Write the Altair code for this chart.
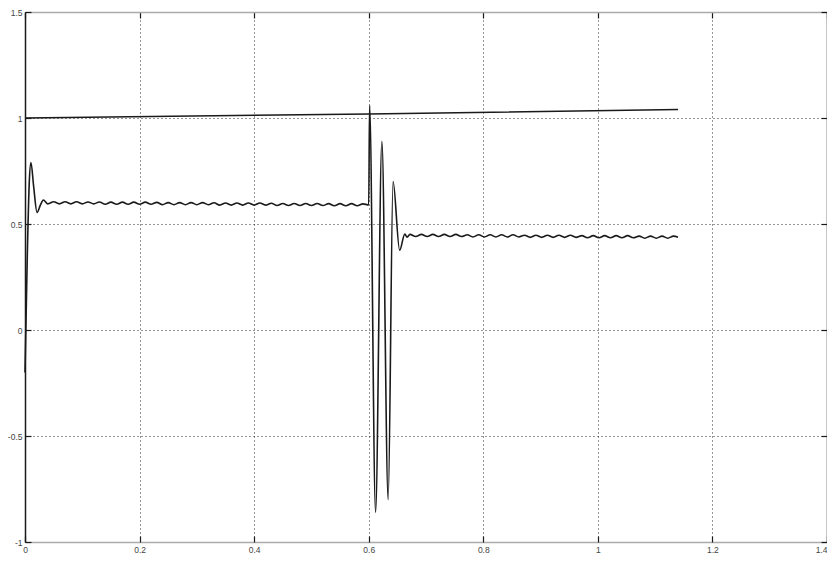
import altair as alt
import pandas as pd

# ---- axis ticks ----
x_ticks = [0, 0.2, 0.4, 0.6, 0.8, 1.0, 1.2, 1.4]
y_ticks = [-1, -0.5, 0, 0.5, 1, 1.5]

# ---- reference (upper) line ----
ref_t = [0.0, 0.6, 1.14]
ref_v = [1.0, 1.019, 1.04]

# ---- response signal ----
start_t = [0.0, 0.004, 0.0075, 0.0104, 0.015, 0.021, 0.027, 0.032]
start_v = [-0.2, 0.35, 0.70, 0.79, 0.68, 0.555, 0.59, 0.613]

ripple1_t0 = 0.04
ripple1_step = 0.01
ripple1_v = [0.595, 0.605, 0.595, 0.605, 0.595, 0.605, 0.595, 0.604, 0.595, 0.604,
             0.593, 0.603, 0.593, 0.603, 0.593, 0.603, 0.593, 0.603, 0.593, 0.602,
             0.591, 0.601, 0.591, 0.601, 0.591, 0.601, 0.591, 0.601, 0.591, 0.600,
             0.589, 0.599, 0.589, 0.599, 0.589, 0.599, 0.589, 0.599, 0.589, 0.598,
             0.587, 0.597, 0.587, 0.597, 0.587, 0.597, 0.587, 0.597, 0.587, 0.596,
             0.586, 0.596, 0.586, 0.596, 0.586, 0.595]

fault_t = [0.600, 0.6015, 0.612, 0.623, 0.634, 0.6425, 0.654, 0.663, 0.667]
fault_v = [0.59, 1.06, -0.86, 0.89, -0.80, 0.70, 0.376, 0.453, 0.438]

ripple2_t0 = 0.672
ripple2_step = 0.01
ripple2_v = [0.451, 0.441, 0.451, 0.441, 0.451, 0.441, 0.451, 0.441, 0.451, 0.441,
             0.449, 0.439, 0.449, 0.439, 0.449, 0.439, 0.449, 0.439, 0.449, 0.439,
             0.447, 0.437, 0.447, 0.437, 0.447, 0.437, 0.447, 0.437, 0.447, 0.437,
             0.445, 0.435, 0.445, 0.435, 0.445, 0.435, 0.445, 0.435, 0.445, 0.435,
             0.443, 0.433, 0.443, 0.433, 0.443, 0.433, 0.443]

end_t = [1.14]
end_v = [0.438]

# ---- build tables ----
r1_t = [round(ripple1_t0 + i * ripple1_step, 4) for i in range(len(ripple1_v))]
r2_t = [round(ripple2_t0 + i * ripple2_step, 4) for i in range(len(ripple2_v))]
sig_t = start_t + r1_t + fault_t + r2_t + end_t
sig_v = start_v + ripple1_v + fault_v + ripple2_v + end_v
sig = pd.DataFrame({"t": sig_t, "v": sig_v})
ref = pd.DataFrame({"t": ref_t, "v": ref_v})

FONT = "Liberation Sans"
xs = alt.Scale(domain=[0, 1.4], nice=False, zero=False)
ys = alt.Scale(domain=[-1, 1.5], nice=False, zero=False)
INK = "#1a1a1a"
GRID = "#2a2a2a"

main_x = alt.Axis(values=x_ticks, labelExpr="datum.value", title=None, orient="bottom",
                  grid=True, gridDash=[1, 3], gridColor=GRID, gridWidth=1,
                  ticks=False, tickSize=0, labelPadding=3, labelFontSize=8.5, labelFont=FONT,
                  labelColor="#444", domainColor="#aaaaaa", domainWidth=1.5,
                  labelAlign={"condition": {"test": "datum.value >= 1.39", "value": "right"},
                              "value": "center"})
main_y = alt.Axis(values=y_ticks, labelExpr="datum.value", title=None, orient="left",
                  grid=True, gridDash=[1, 3], gridColor=GRID, gridWidth=1,
                  ticks=False, tickSize=0, labelPadding=3, labelFontSize=8.5, labelFont=FONT,
                  labelColor="#444", domainColor=INK, domainWidth=1.5)

signal = alt.Chart(sig).mark_line(color=INK, strokeWidth=1.6, interpolate="monotone").encode(
    x=alt.X("t:Q", scale=xs, axis=main_x),
    y=alt.Y("v:Q", scale=ys, axis=main_y),
)

refline = alt.Chart(ref).mark_line(color=INK, strokeWidth=1.5).encode(
    x=alt.X("t:Q", scale=xs, axis=None),
    y=alt.Y("v:Q", scale=ys, axis=None),
)


def tick_axis(orient, vals, offset, size, domain=False, dcolor=INK):
    return alt.Axis(values=vals, orient=orient, offset=offset, tickSize=size, ticks=size > 0,
                    tickColor=INK, tickWidth=1.2, labels=False, grid=False, title=None,
                    domain=domain, domainColor=dcolor, domainWidth=1.5)


ticks_lb = alt.Chart(ref).mark_line(strokeOpacity=0).encode(
    x=alt.X("t:Q", scale=xs, axis=tick_axis("bottom", x_ticks, -6, 6)),
    y=alt.Y("v:Q", scale=ys, axis=tick_axis("left", y_ticks, -6, 6)),
)
ticks_rt = alt.Chart(ref).mark_line(strokeOpacity=0).encode(
    x=alt.X("t:Q", scale=xs, axis=tick_axis("top", x_ticks, -6, 6)),
    y=alt.Y("v:Q", scale=ys, axis=tick_axis("right", y_ticks, -6, 6)),
)
borders = alt.Chart(ref).mark_line(strokeOpacity=0).encode(
    x=alt.X("t:Q", scale=xs, axis=tick_axis("top", x_ticks, 0, 0, True, "#aaaaaa")),
    y=alt.Y("v:Q", scale=ys, axis=tick_axis("right", y_ticks, 0, 0, True, INK)),
)

chart = alt.layer(signal, refline, ticks_lb, ticks_rt, borders).resolve_axis(
    x="independent", y="independent"
).properties(
    width=802, height=530,
    autosize=alt.AutoSizeParams(type="none"),
    padding={"left": 17, "top": 4, "right": 0, "bottom": 12},
    background="white",
).configure_view(strokeWidth=0)

chart.save("out.html", embed_options={"renderer": "svg", "actions": False})
